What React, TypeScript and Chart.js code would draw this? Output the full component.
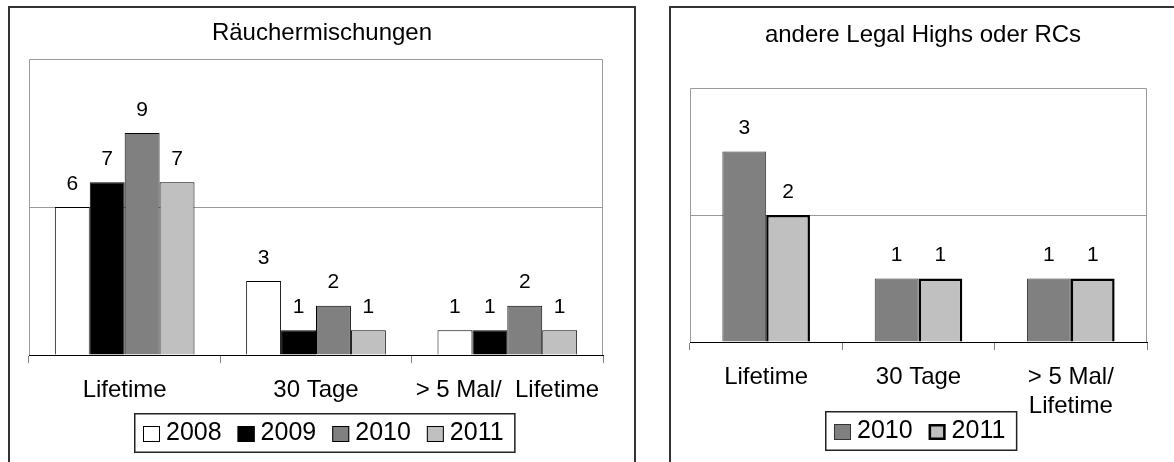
import React, { useEffect, useRef } from "react";
import { Chart, registerables } from "chart.js";

Chart.register(...registerables);

const FONT = "'Liberation Sans', Arial, Helvetica, sans-serif";

// ---------- Left chart data ----------
const leftTitle = "Räuchermischungen";
const leftCategories: (string | string[])[] = ["Lifetime", "30 Tage", "> 5 Mal/  Lifetime"];
const leftYears = ["2008", "2009", "2010", "2011"];
const left2008 = [6, 3, 1];
const left2009 = [7, 1, 1];
const left2010 = [9, 2, 2];
const left2011 = [7, 1, 1];
const leftYMax = 12;
const leftYStep = 6;

// ---------- Right chart data ----------
const rightTitle = "andere Legal Highs oder RCs";
const rightCategories: (string | string[])[] = ["Lifetime", "30 Tage", ["> 5 Mal/", "Lifetime"]];
const rightYears = ["2010", "2011"];
const right2010 = [3, 1, 1];
const right2011 = [2, 1, 1];
const rightYMax = 4;
const rightYStep = 2;

const framePlugin = {
  id: "plotFrame",
  beforeDraw(chart: any) {
    const { ctx, chartArea: a } = chart;
    ctx.save();
    ctx.strokeStyle = "#9a9a9a";
    ctx.lineWidth = 1;
    const l = Math.round(a.left) + 0.5;
    const r = Math.round(a.right) - 0.5;
    const t = Math.round(a.top) + 0.5;
    const b = Math.round(a.bottom) + 0.5;
    ctx.beginPath();
    ctx.moveTo(l, b);
    ctx.lineTo(l, t);
    ctx.lineTo(r, t);
    ctx.lineTo(r, b);
    ctx.stroke();
    ctx.restore();
  },
};

const valueLabelPlugin = {
  id: "valueLabels",
  afterDatasetsDraw(chart: any) {
    const ctx = chart.ctx;
    ctx.save();
    ctx.font = `21px ${FONT}`;
    ctx.fillStyle = "#000";
    ctx.textAlign = "center";
    ctx.textBaseline = "middle";
    chart.data.datasets.forEach((ds: any, i: number) => {
      chart.getDatasetMeta(i).data.forEach((bar: any, j: number) => {
        ctx.fillText(String(ds.data[j]), bar.x, bar.y - 23);
      });
    });
    ctx.restore();
  },
};

const boxLegendPlugin = {
  id: "boxLegend",
  afterDraw(chart: any, _args: any, opts: any) {
    const ctx = chart.ctx;
    const items = chart.data.datasets;
    ctx.save();
    ctx.font = `${opts.fontSize}px ${FONT}`;
    const marker = 17;
    const gap = 6;
    const itemGap = 16;
    const padL = 9;
    const padR = 12;
    const h = 40;
    const widths = items.map((d: any) => marker + gap + ctx.measureText(d.label).width);
    const total =
      padL + widths.reduce((s: number, w: number) => s + w, 0) + itemGap * (items.length - 1) + padR;
    const x0 = Math.round(chart.width / 2 + opts.offsetX - total / 2);
    const y0 = Math.round(chart.chartArea.bottom + opts.offsetY);
    ctx.fillStyle = "#fff";
    ctx.fillRect(x0, y0, total, h);
    ctx.strokeStyle = "#222";
    ctx.lineWidth = 1.5;
    ctx.strokeRect(x0 + 0.75, y0 + 0.75, total - 1.5, h - 1.5);
    let x = x0 + padL;
    const cy = y0 + 21;
    items.forEach((d: any, i: number) => {
      const bw = Math.min(d.borderWidth, 2.5);
      ctx.fillStyle = d.backgroundColor;
      ctx.fillRect(x, cy - 8, marker, 16);
      ctx.lineWidth = bw;
      ctx.strokeStyle = d.borderColor;
      ctx.strokeRect(x + bw / 2, cy - 8 + bw / 2, marker - bw, 16 - bw);
      ctx.fillStyle = "#000";
      ctx.textAlign = "left";
      ctx.textBaseline = "middle";
      ctx.fillText(d.label, x + marker + gap, cy - 1);
      x += widths[i] + itemGap;
    });
    ctx.restore();
  },
};

type DS = {
  label: string;
  data: number[];
  backgroundColor: string;
  borderColor: string;
  borderWidth: number;
};

type Props = {
  width: number;
  height: number;
  title: string;
  titlePadTop: number;
  titlePadBottom: number;
  categories: (string | string[])[];
  datasets: DS[];
  yMax: number;
  yStep: number;
  catPct: number;
  inset: { left: number; right: number; bottom: number };
  legendOffsetX: number;
  legendOffsetY: number;
};

function BarChart(p: Props) {
  const ref = useRef<HTMLCanvasElement | null>(null);
  useEffect(() => {
    if (!ref.current) return;
    const chart = new Chart(ref.current, {
      type: "bar",
      data: {
        labels: p.categories as any,
        datasets: p.datasets.map((d) => ({
          ...d,
          yAxisID: "y",
          categoryPercentage: p.catPct,
          barPercentage: 1.0,
        })),
      },
      plugins: [framePlugin, valueLabelPlugin, boxLegendPlugin],
      options: {
        responsive: false,
        animation: false,
        devicePixelRatio: 1,
        layout: { padding: { left: 0, right: 0, top: 0, bottom: p.inset.bottom } },
        plugins: {
          legend: { display: false },
          tooltip: { enabled: false },
          title: {
            display: true,
            text: p.title,
            color: "#000",
            font: { family: FONT, size: 24, weight: "normal" },
            padding: { top: p.titlePadTop, bottom: p.titlePadBottom },
          },
          boxLegend: { fontSize: 25, offsetX: p.legendOffsetX, offsetY: p.legendOffsetY },
        } as any,
        scales: {
          x: {
            afterFit: (scale: any) => {
              scale.height = 90;
            },
            grid: {
              offset: true,
              drawOnChartArea: false,
              drawTicks: true,
              tickLength: 8,
              color: "#808080",
            },
            border: { display: true, color: "#000", width: 1 },
            ticks: {
              font: { family: FONT, size: 24 },
              color: "#000",
              padding: 13,
              autoSkip: false,
              maxRotation: 0,
              minRotation: 0,
            },
          },
          y: {
            position: "left",
            min: 0,
            max: p.yMax,
            afterFit: (scale: any) => {
              scale.width = p.inset.left;
            },
            ticks: { display: false, stepSize: p.yStep },
            border: { display: false },
            grid: {
              drawTicks: false,
              color: (c: any) =>
                c.tick && c.tick.value > 0 && c.tick.value < p.yMax ? "#9a9a9a" : "rgba(0,0,0,0)",
            },
          },
          yRight: {
            position: "right",
            min: 0,
            max: 1,
            afterFit: (scale: any) => {
              scale.width = p.inset.right;
            },
            ticks: { display: false },
            border: { display: false },
            grid: { display: false, drawTicks: false },
          },
        } as any,
      },
    });
    return () => chart.destroy();
  }, []);
  return (
    <canvas
      ref={ref}
      width={p.width}
      height={p.height}
      style={{ display: "block", width: p.width, height: p.height }}
    />
  );
}

export default function App() {
  const leftDatasets: DS[] = [
    { label: leftYears[0], data: left2008, backgroundColor: "#ffffff", borderColor: "#000", borderWidth: 1 },
    { label: leftYears[1], data: left2009, backgroundColor: "#000000", borderColor: "#000", borderWidth: 1 },
    { label: leftYears[2], data: left2010, backgroundColor: "#808080", borderColor: "#000", borderWidth: 1 },
    { label: leftYears[3], data: left2011, backgroundColor: "#c0c0c0", borderColor: "#000", borderWidth: 1 },
  ];
  const rightDatasets: DS[] = [
    { label: rightYears[0], data: right2010, backgroundColor: "#808080", borderColor: "#333", borderWidth: 1 },
    { label: rightYears[1], data: right2011, backgroundColor: "#c0c0c0", borderColor: "#000", borderWidth: 2.5 },
  ];
  return (
    <div
      style={{
        position: "fixed",
        left: 0,
        top: 0,
        width: 1174,
        height: 462,
        overflow: "hidden",
        background: "#fff",
      }}
    >
      <div
        style={{
          position: "absolute",
          left: 8,
          top: 6,
          width: 624,
          height: 470,
          border: "2px solid #333",
          background: "#fff",
        }}
      >
        <BarChart
          width={624}
          height={460}
          title={leftTitle}
          titlePadTop={11}
          titlePadBottom={11.2}
          categories={leftCategories}
          datasets={leftDatasets}
          yMax={leftYMax}
          yStep={leftYStep}
          catPct={0.73}
          inset={{ left: 19, right: 31, bottom: 23 }}
          legendOffsetX={2.5}
          legendOffsetY={58}
        />
      </div>
      <div
        style={{
          position: "absolute",
          left: 669,
          top: 6,
          width: 504,
          height: 470,
          border: "2px solid #333",
          background: "#fff",
        }}
      >
        <BarChart
          width={504}
          height={460}
          title={rightTitle}
          titlePadTop={12.6}
          titlePadBottom={38.6}
          categories={rightCategories}
          datasets={rightDatasets}
          yMax={rightYMax}
          yStep={rightYStep}
          catPct={0.575}
          inset={{ left: 19, right: 28, bottom: 36 }}
          legendOffsetX={-1.5}
          legendOffsetY={69}
        />
      </div>
    </div>
  );
}
